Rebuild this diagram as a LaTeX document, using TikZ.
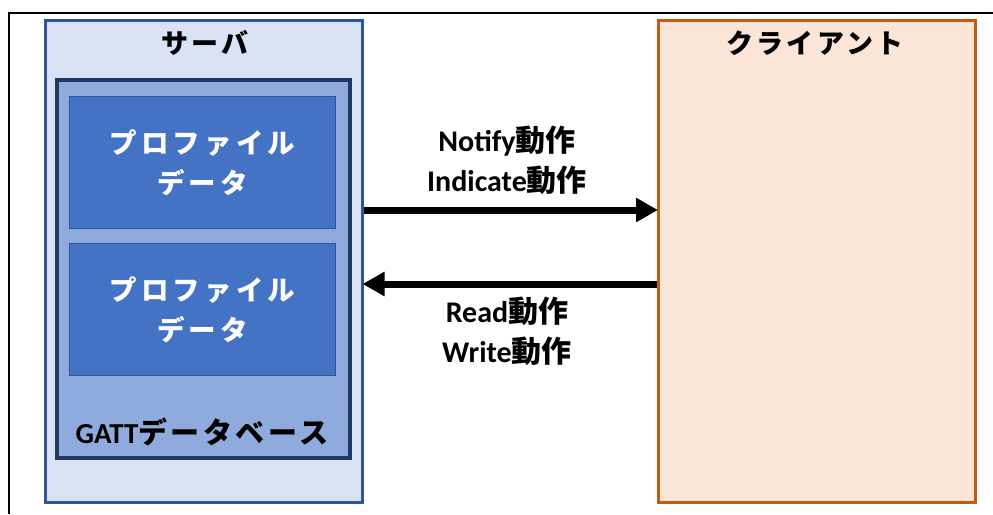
\documentclass[tikz,border=0pt]{standalone}
\usepackage{fontspec}
\setmainfont{Carlito}
\newfontfamily\jp{Noto Sans CJK JP}
\newfontfamily\jpw{Noto Sans CJK JP}[LetterSpace=12]
\newfontfamily\jpww{Noto Sans CJK JP}[LetterSpace=15]
\usetikzlibrary{arrows.meta}
\definecolor{srvfill}{HTML}{DAE3F3}
\definecolor{srvline}{HTML}{2F5597}
\definecolor{dbfill}{HTML}{8FAADC}
\definecolor{dbline}{HTML}{203864}
\definecolor{pffill}{HTML}{4472C4}
\definecolor{pfline}{HTML}{2F5597}
\definecolor{clfill}{HTML}{FBE5D6}
\definecolor{clline}{HTML}{C55A11}
\tikzset{
  box/.style={draw, rectangle, inner sep=0pt, anchor=north west},
  title/.style={font=\fontsize{27}{32}\selectfont\bfseries, text=black},
  pftext/.style={font=\fontsize{27.5}{40}\selectfont\bfseries, text=white, align=center},
  oplabel/.style={font=\fontsize{30}{40}\selectfont\bfseries, align=center},
  flow/.style={line width=7pt, -{Triangle[length=22pt,width=23pt]}, shorten >=-1pt}
}
\begin{document}
\begin{tikzpicture}[x=1pt,y=-1pt]
\useasboundingbox (0,0) rectangle (993,514);
% outer frame
\draw[line width=2pt] (9,514) -- (9,13) -- (993,13);
% server
\node[box, fill=srvfill, draw=srvline, line width=2.5pt, minimum width=317pt, minimum height=482pt] (srv) at (44,19) {};
\node[title] (srvt) at (205,43) {\jpw サーバ};
% GATT database
\node[box, fill=dbfill, draw=dbline, line width=3.5pt, minimum width=293pt, minimum height=378pt] (db) at (55,78) {};
\node[box, fill=pffill, draw=pfline, line width=1pt, minimum width=266pt, minimum height=132pt] (pf1) at (69,96) {};
\node[box, fill=pffill, draw=pfline, line width=1pt, minimum width=266pt, minimum height=132pt] (pf2) at (69,243) {};
\node[pftext] (pf1t) at (pf1.center) {\jpww プロファイル\\\jpww データ};
\node[pftext] (pf2t) at (pf2.center) {\jpww プロファイル\\\jpww データ};
\node[title, font=\fontsize{29}{32}\selectfont\bfseries] (dbt) at (202,432) {GATT\jpw データベース};
% client
\node[box, fill=clfill, draw=clline, line width=3pt, minimum width=317pt, minimum height=482pt] (cl) at (657,19) {};
\node[title] (clt) at (815,43) {\jpw クライアント};
% flows
\coordinate (a1s) at (srv.east |- 0,210);
\coordinate (a1e) at (cl.west |- 0,210);
\coordinate (a2s) at (cl.west |- 0,284);
\coordinate (a2e) at (srv.east |- 0,284);
\draw[flow] (a1s) -- (a1e);
\draw[flow] (a2s) -- (a2e);
\node[oplabel] (l1) at (507,160) {Notify{\jp 動作}\\Indicate{\jp 動作}};
\node[oplabel] (l2) at (507,331) {Read{\jp 動作}\\Write{\jp 動作}};
\end{tikzpicture}
\end{document}
